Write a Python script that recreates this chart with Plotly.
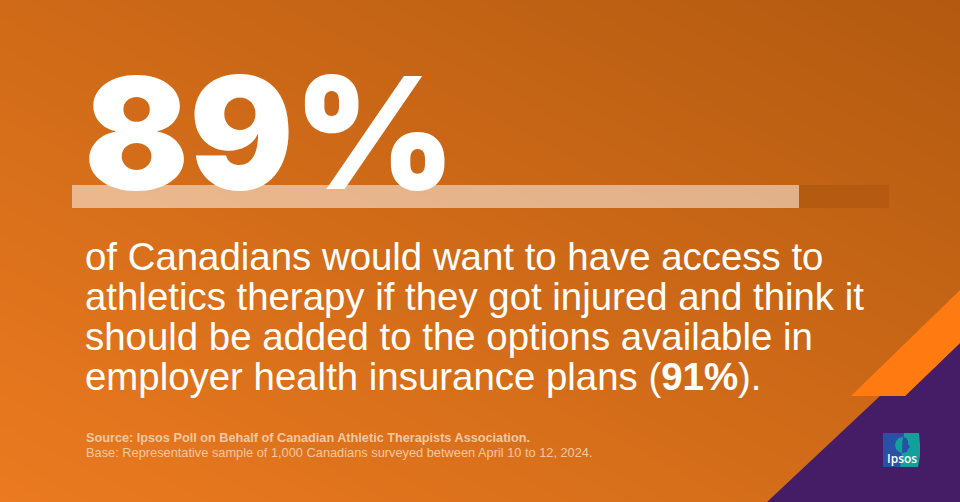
import plotly.graph_objects as go

# values
headline = '89%'
bar_value = [89]
bar_rest = [11]
body_lines = [
    'of Canadians would want to have access to',
    'athletics therapy if they got injured and think it',
    'should be added to the options available in',
    'employer health insurance plans (<b>91%</b>).',
]
source_line = '<b>Source: Ipsos Poll on Behalf of Canadian Athletic Therapists Association.</b>'
base_line = 'Base: Representative sample of 1,000 Canadians surveyed between April 10 to 12, 2024.'
bg_z = [[0.0, 0.5], [0.5, 1.0]]
bg_colors = [[0, '#EB7A20'], [0.5, '#CF6A18'], [1, '#B25A10']]

W, H = 960, 502


def px(x):
    return x / W


def py(y):
    return 1 - y / H


def poly(points, color):
    path = 'M ' + ' L '.join(f'{px(x)} {py(y)}' for x, y in points) + ' Z'
    return dict(type='path', path=path, xref='paper', yref='paper', fillcolor=color, line_width=0, layer='above')


fig = go.Figure()

# background gradient
fig.add_trace(go.Heatmap(z=bg_z, x=[0, 1], y=[0, 1], colorscale=bg_colors, zsmooth='best',
                         showscale=False, hoverinfo='skip', xaxis='x', yaxis='y'))

# progress bar
fig.add_trace(go.Bar(x=bar_value, y=[0], orientation='h', marker=dict(color='rgba(255,255,255,0.5)', line_width=0),
                     xaxis='x2', yaxis='y2', width=1, hoverinfo='skip'))
fig.add_trace(go.Bar(x=bar_rest, y=[0], orientation='h', marker=dict(color='#B55B11', line_width=0),
                     xaxis='x2', yaxis='y2', width=1, hoverinfo='skip'))

annotations = [dict(text=headline, x=px(83), y=py(132), xref='paper', yref='paper', xanchor='left', yanchor='middle',
                    showarrow=False, borderpad=0, font=dict(family='Inter', size=155, color='white', weight=900))]
for i, line in enumerate(body_lines):
    annotations.append(dict(text=line, x=px(84), y=py(256 + i * 40), xref='paper', yref='paper', xanchor='left',
                            yanchor='middle', showarrow=False, borderpad=0,
                            font=dict(family='Liberation Sans', size=38.4, color='white')))
annotations.append(dict(text=source_line, x=px(85), y=py(438), xref='paper', yref='paper', xanchor='left', yanchor='middle',
                        showarrow=False, borderpad=0, font=dict(family='Liberation Sans', size=12.7, color='#F6C7A0')))
annotations.append(dict(text=base_line, x=px(85), y=py(452), xref='paper', yref='paper', xanchor='left', yanchor='middle',
                        showarrow=False, borderpad=0, font=dict(family='Liberation Sans', size=12.8, color='#F6C7A0')))
# logo word
annotations.append(dict(text='Ipsos', x=px(901.5), y=py(458), xref='paper', yref='paper', xanchor='center', yanchor='middle',
                        showarrow=False, borderpad=0, font=dict(family='Open Sans', size=12, color='white', weight=600)))

shapes = [
    poly([(767, 502), (880, 396), (905, 396), (960, 343), (960, 502)], '#451C66'),
    poly([(851, 396), (960, 290), (960, 343), (905, 396)], '#FF7A10'),
    # logo
    poly([(883, 433), (904, 433), (900, 467), (883, 467)], '#2A4FA6'),
    poly([(904, 433), (919, 433), (920, 445), (920, 456), (918, 467), (900, 467)], '#13A09A'),
    poly([(903, 437), (899, 438), (896, 441), (895, 445), (896, 449), (899, 452), (902, 453)], '#13A09A'),
    poly([(903, 437), (906, 438), (908, 441), (908, 444), (910, 447), (908, 449), (907, 452), (902, 453)], '#2A4FA6'),
]

fig.update_layout(
    width=W,
    height=H,
    margin=dict(l=0, r=0, t=0, b=0),
    showlegend=False,
    barmode='stack',
    paper_bgcolor='#D06A18',
    plot_bgcolor='rgba(0,0,0,0)',
    xaxis=dict(range=[0, 1], domain=[0, 1], visible=False, fixedrange=True),
    yaxis=dict(range=[0, 1], domain=[0, 1], visible=False, fixedrange=True),
    # 0 sits at the bar's left end, 100 at its right end
    xaxis2=dict(range=[-8.746, 108.685], domain=[0, 1], overlaying='x', anchor='y2', visible=False, fixedrange=True),
    yaxis2=dict(range=[-0.5, 0.5], domain=[py(208), py(185)], anchor='x2', visible=False, fixedrange=True),
    annotations=annotations,
    shapes=shapes,
)

fig.write_html('out.html', config=dict(displayModeBar=False),
               post_script="document.body.style.margin='0';document.body.style.overflow='hidden';")
